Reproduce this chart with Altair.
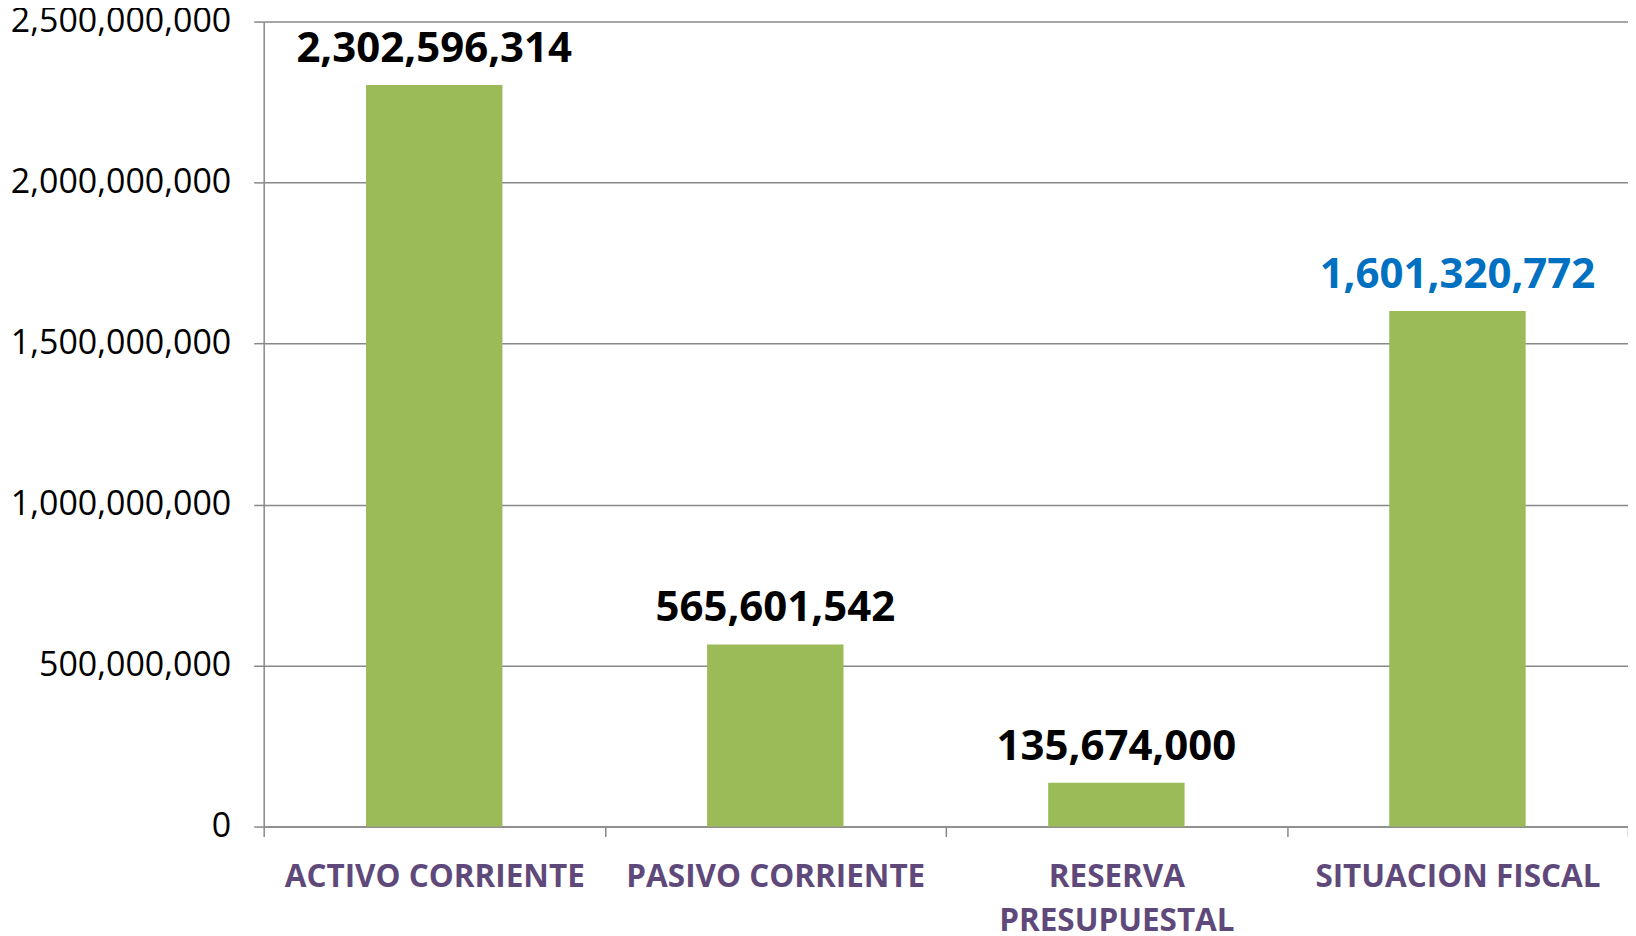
import altair as alt
import pandas as pd

categories = ["ACTIVO CORRIENTE", "PASIVO CORRIENTE", "RESERVA\nPRESUPUESTAL", "SITUACION FISCAL"]
values = [2302596314, 565601542, 135674000, 1601320772]
label_colors = ["#000000", "#000000", "#000000", "#0070C0"]
y_ticks = [0, 500000000, 1000000000, 1500000000, 2000000000, 2500000000]

df = pd.DataFrame({"cat": categories, "val": values, "lc": label_colors})

x_enc = alt.X(
    "cat:N",
    sort=None,
    title=None,
    scale=alt.Scale(paddingInner=0, paddingOuter=0),
    axis=alt.Axis(
        labelAngle=0,
        labelExpr="split(datum.label, '\\n')",
        labelFont="Open Sans",
        labelFontSize=31.5,
        labelFontWeight="bold",
        labelColor="#5F497A",
        labelLineHeight=44,
        labelPadding=25,
        labelLimit=0,
        tickBand="extent",
        tickSize=10,
        tickColor="#888888",
        tickWidth=1.5,
        domainColor="#888888",
        domainWidth=1.5,
        grid=False,
    ),
)

y_enc = alt.Y(
    "val:Q",
    title=None,
    scale=alt.Scale(domain=[0, 2500000000], nice=False),
    axis=alt.Axis(
        values=y_ticks,
        format=",d",
        labelFont="Open Sans",
        labelFontSize=34,
        labelColor="#000000",
        labelPadding=23,
        labelLimit=0,
        tickSize=10,
        tickColor="#888888",
        tickWidth=1.5,
        domainColor="#888888",
        domainWidth=1.5,
        gridColor="#888888",
        gridWidth=1.5,
    ),
)

base = alt.Chart(df).encode(x=x_enc, y=y_enc)

bars = base.mark_bar(color="#9BBB59", width=alt.RelativeBandSize(0.4))

labels = base.mark_text(
    font="Open Sans",
    fontSize=42,
    fontWeight="bold",
    baseline="bottom",
    dy=-14,
).encode(
    text=alt.Text("val:Q", format=",d"),
    color=alt.Color("lc:N", scale=None),
)

chart = (
    alt.layer(bars, labels)
    .properties(
        width=1366,
        height=806,
        autosize=alt.AutoSizeParams(type="none"),
        padding={"left": 256, "top": 13, "right": 0, "bottom": 108},
    )
    .configure_view(stroke=None)
)

chart.save("out.html", embed_options={"renderer": "svg", "actions": False})
